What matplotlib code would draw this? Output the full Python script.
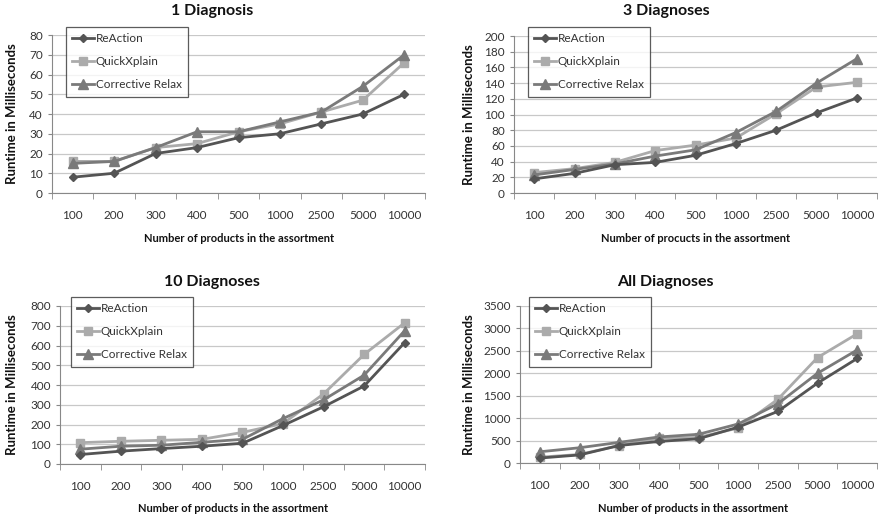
import numpy as np
import matplotlib.pyplot as plt
from matplotlib.ticker import MultipleLocator

plt.rcParams['font.family'] = ['Lato', 'DejaVu Sans']

sizes = ['100', '200', '300', '400', '500', '1000', '2500', '5000', '10000']

# 1 Diagnosis
d1_reaction = [8, 10, 20, 23, 28, 30, 35, 40, 50]
d1_quickx = [16, 16, 23, 25, 31, 35, 41, 47, 66]
d1_relax = [15, 16, 23, 31, 31, 36, 41, 54, 70]

# 3 Diagnoses
d3_reaction = [18, 25, 36, 39, 48, 63, 80, 102, 121]
d3_quickx = [26, 31, 39, 54, 61, 70, 101, 135, 141]
d3_relax = [23, 30, 37, 47, 55, 77, 104, 140, 171]

# 10 Diagnoses
d10_reaction = [48, 65, 78, 90, 105, 195, 290, 395, 615]
d10_quickx = [108, 115, 120, 125, 160, 205, 355, 555, 715]
d10_relax = [75, 90, 95, 110, 125, 230, 325, 450, 675]

# All Diagnoses
all_reaction = [110, 180, 390, 480, 540, 800, 1150, 1780, 2330]
all_quickx = [130, 190, 390, 550, 570, 780, 1420, 2350, 2880]
all_relax = [250, 340, 460, 580, 640, 870, 1320, 2000, 2520]

C_REACT = '#545454'
C_QX = '#ababab'
C_CR = '#7a7a7a'

W, H = 883, 521
fig = plt.figure(figsize=(W / 100, H / 100), dpi=100)


def px_axes(x0, y0, x1, y1):
    return fig.add_axes([x0 / W, 1 - y1 / H, (x1 - x0) / W, (y1 - y0) / H])


def panel(box, title, react, qx, cr, ymax, ystep, xlabel, legbox, title_xy, xlab_xy, ylab_x):
    ax = px_axes(*box)
    x = np.arange(len(sizes))
    ax.plot(x, cr, color=C_CR, lw=2, marker='^', ms=6.5, label='Corrective Relax', zorder=3)
    ax.plot(x, qx, color=C_QX, lw=2, marker='s', ms=6, label='QuickXplain', zorder=2)
    ax.plot(x, react, color=C_REACT, lw=2, marker='D', ms=4.5, label='ReAction', zorder=4)

    ax.set_xlim(-0.5, len(sizes) - 0.5)
    ax.set_ylim(0, ymax)
    ax.yaxis.set_major_locator(MultipleLocator(ystep))
    ax.set_xticks(x)
    ax.set_xticklabels(sizes)
    ax.set_xticks(np.arange(-0.5, len(sizes)), minor=True)
    ax.tick_params(axis='x', which='major', length=0, pad=12, labelsize=8.5, colors='#333333')
    ax.tick_params(axis='x', which='minor', length=4, color='#888888')
    ax.tick_params(axis='y', length=3, color='#888888', labelsize=8.5, labelcolor='#333333')
    ax.grid(axis='y', color='#c8c8c8', lw=0.9)
    ax.set_axisbelow(True)
    for s in ['top', 'right']:
        ax.spines[s].set_visible(False)
    for s in ['left', 'bottom']:
        ax.spines[s].set_color('#888888')

    handles, labels = ax.get_legend_handles_labels()
    order = [2, 1, 0]
    lx0, ly0, lx1, ly1 = legbox
    leg = fig.legend([handles[i] for i in order], [labels[i] for i in order],
                     loc='upper left', bbox_to_anchor=(lx0 / W, 1 - ly0 / H),
                     fontsize=8.5, frameon=True, fancybox=False, borderpad=0.55,
                     handlelength=1.8, handletextpad=0.15, labelspacing=1.0,
                     borderaxespad=0, labelcolor='#333333')
    leg.get_frame().set_edgecolor('#333333')
    leg.get_frame().set_linewidth(0.9)

    fig.text(title_xy[0] / W, 1 - title_xy[1] / H, title, ha='center', va='center',
             fontsize=11.5, fontweight='bold', color='#111111')
    fig.text(xlab_xy[0] / W, 1 - xlab_xy[1] / H, xlabel, ha='center', va='center',
             fontsize=8, fontweight='bold', color='#111111')
    cy = (box[1] + box[3]) / 2
    fig.text(ylab_x / W, 1 - cy / H, 'Runtime in Milliseconds', ha='center', va='center',
             rotation=90, fontsize=9.5, fontweight='bold', color='#111111')
    return ax


panel((52, 35, 425, 193), '1 Diagnosis', d1_reaction, d1_quickx, d1_relax, 80, 10,
      'Number of products in the assortment', (66, 27, 187, 95), (212, 11), (239, 238), 12)
panel((514, 36, 877, 193), '3 Diagnoses', d3_reaction, d3_quickx, d3_relax, 200, 20,
      'Number of procucts in the assortment', (528, 27, 649, 95), (666, 11), (696, 238), 469)
panel((60, 306, 425, 464), '10 Diagnoses', d10_reaction, d10_quickx, d10_relax, 800, 100,
      'Number of products in the assortment', (71, 297, 183, 367), (212, 282), (233, 508), 12)
panel((520, 306, 877, 463), 'All Diagnoses', all_reaction, all_quickx, all_relax, 3500, 500,
      'Number of products in the assortment', (529, 297, 651, 367), (665, 282), (693, 508), 469)

fig.savefig('out.png', dpi=100)
